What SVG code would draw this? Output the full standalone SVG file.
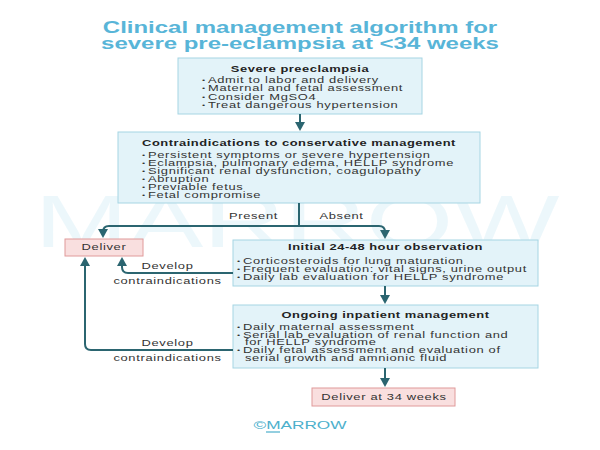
<svg xmlns="http://www.w3.org/2000/svg" width="600" height="450" viewBox="0 0 600 450">
  <defs>
    <style>
      text { font-family: "Liberation Sans", Arial, sans-serif; fill: #333; }
      .t { font-size: 8.6px; letter-spacing: 0.45px; }
      .h { font-size: 8.6px; letter-spacing: 0.35px; font-weight: bold; text-anchor: middle; fill: #222; }
      .c { text-anchor: middle; }
      .b { font-size: 6px; letter-spacing: 0; }
      .title { font-size: 16px; font-weight: bold; fill: #58b5d8; text-anchor: middle; }
      .box { fill: #e3f3f9; stroke: #a6d5e3; stroke-width: 1; }
      .pink { fill: #f9dfdf; stroke: #e09a9a; stroke-width: 1; }
      .conn { fill: none; stroke: #2b6570; stroke-width: 2; }
      .wm { font-size: 75px; fill: #bfe5f1; fill-opacity: 0.3; text-anchor: middle; }
      .brand { font-size: 11.5px; fill: #4db0cc; text-anchor: middle; }
    </style>
    <marker id="ah" markerUnits="userSpaceOnUse" markerWidth="10" markerHeight="10" refX="5" refY="5" orient="auto">
      <path d="M0,0 L9,5 L0,10 z" fill="#2b6570"/>
    </marker>
  </defs>
  <rect width="600" height="450" fill="#ffffff"/>

  <g id="watermark" transform="scale(1.5,1)">
    <text class="wm" x="198" y="247">MARROW</text>
  </g>

  <g id="title" transform="scale(1.5,1)">
    <text class="title" x="200" y="33">Clinical management algorithm for</text>
    <text class="title" x="200" y="49">severe pre-eclampsia at &lt;34 weeks</text>
  </g>

  <g id="severe-preeclampsia">
    <rect class="box" x="178" y="58" width="244" height="56"/>
    <g transform="scale(1.5,1)">
      <text class="h" x="200" y="72.5">Severe preeclampsia</text>
      <text class="t" y="83"><tspan class="b" x="134.67" dy="-1">•</tspan><tspan x="138.67" dy="1">Admit to labor and delivery</tspan></text>
      <text class="t" y="91.5"><tspan class="b" x="134.67" dy="-1">•</tspan><tspan x="138.67" dy="1">Maternal and fetal assessment</tspan></text>
      <text class="t" y="100"><tspan class="b" x="134.67" dy="-1">•</tspan><tspan x="138.67" dy="1">Consider MgSO4</tspan></text>
      <text class="t" y="108.5"><tspan class="b" x="134.67" dy="-1">•</tspan><tspan x="138.67" dy="1">Treat dangerous hypertension</tspan></text>
    </g>
  </g>

  <g id="contraindications">
    <rect class="box" x="118" y="132" width="362" height="71"/>
    <g transform="scale(1.5,1)">
      <text class="h" x="199.33" y="146.5">Contraindications to conservative management</text>
      <text class="t" y="158"><tspan class="b" x="94.67" dy="-1">•</tspan><tspan x="98.67" dy="1">Persistent symptoms or severe hypertension</tspan></text>
      <text class="t" y="166"><tspan class="b" x="94.67" dy="-1">•</tspan><tspan x="98.67" dy="1">Eclampsia, pulmonary edema, HELLP syndrome</tspan></text>
      <text class="t" y="174"><tspan class="b" x="94.67" dy="-1">•</tspan><tspan x="98.67" dy="1">Significant renal dysfunction, coagulopathy</tspan></text>
      <text class="t" y="182"><tspan class="b" x="94.67" dy="-1">•</tspan><tspan x="98.67" dy="1">Abruption</tspan></text>
      <text class="t" y="190"><tspan class="b" x="94.67" dy="-1">•</tspan><tspan x="98.67" dy="1">Previable fetus</tspan></text>
      <text class="t" y="198"><tspan class="b" x="94.67" dy="-1">•</tspan><tspan x="98.67" dy="1">Fetal compromise</tspan></text>
    </g>
  </g>

  <g id="deliver">
    <rect class="pink" x="65" y="239" width="78" height="17"/>
    <g transform="scale(1.5,1)">
      <text class="t c" x="69.33" y="250.5">Deliver</text>
    </g>
  </g>

  <g id="initial-observation">
    <rect class="box" x="233" y="240" width="305" height="46"/>
    <g transform="scale(1.5,1)">
      <text class="h" x="257" y="250.5">Initial 24-48 hour observation</text>
      <text class="t" y="264"><tspan class="b" x="158" dy="-1">•</tspan><tspan x="162" dy="1">Corticosteroids for lung maturation</tspan></text>
      <text class="t" y="272"><tspan class="b" x="158" dy="-1">•</tspan><tspan x="162" dy="1">Frequent evaluation: vital signs, urine output</tspan></text>
      <text class="t" y="280"><tspan class="b" x="158" dy="-1">•</tspan><tspan x="162" dy="1">Daily lab evaluation for HELLP syndrome</tspan></text>
    </g>
  </g>

  <g id="ongoing-management">
    <rect class="box" x="233" y="305" width="305" height="63"/>
    <g transform="scale(1.5,1)">
      <text class="h" x="257" y="318">Ongoing inpatient management</text>
      <text class="t" y="330"><tspan class="b" x="158" dy="-1">•</tspan><tspan x="162" dy="1">Daily maternal assessment</tspan></text>
      <text class="t" y="337.7"><tspan class="b" x="158" dy="-1">•</tspan><tspan x="162" dy="1">Serial lab evaluation of renal function and</tspan></text>
      <text class="t" x="163.33" y="345.4">for HELLP syndrome</text>
      <text class="t" y="353.1"><tspan class="b" x="158" dy="-1">•</tspan><tspan x="162" dy="1">Daily fetal assessment and evaluation of</tspan></text>
      <text class="t" x="163.33" y="360.8">serial growth and amnionic fluid</text>
    </g>
  </g>

  <g id="deliver-34">
    <rect class="pink" x="312" y="388" width="143" height="18"/>
    <g transform="scale(1.5,1)">
      <text class="t c" x="256" y="400">Deliver at 34 weeks</text>
    </g>
  </g>

  <g id="connectors">
    <path class="conn" d="M300,114 V127" marker-end="url(#ah)"/>
    <path class="conn" d="M299,203 V226"/>
    <path class="conn" d="M299,226 H109 Q103,226 103,232 V234" marker-end="url(#ah)"/>
    <path class="conn" d="M299,226 H379 Q385,226 385,232 V235" marker-end="url(#ah)"/>
    <path class="conn" d="M233,273 H128 Q122,273 122,267 V261" marker-end="url(#ah)"/>
    <path class="conn" d="M233,350 H91 Q85,350 85,344 V261" marker-end="url(#ah)"/>
    <path class="conn" d="M385,286 V300" marker-end="url(#ah)"/>
    <path class="conn" d="M385,368 V383" marker-end="url(#ah)"/>
    <g transform="scale(1.5,1)">
      <text class="t c" x="169" y="219">Present</text>
      <text class="t c" x="227.67" y="219">Absent</text>
      <text class="t c" x="111.67" y="269">Develop</text>
      <text class="t c" x="111.67" y="284">contraindications</text>
      <text class="t c" x="111.67" y="346">Develop</text>
      <text class="t c" x="111.67" y="361">contraindications</text>
    </g>
  </g>

  <g id="brand">
    <g transform="scale(1.5,1)">
      <text class="brand" x="200" y="429">©MARROW</text>
    </g>
    <line x1="266" y1="432" x2="280" y2="432" stroke="#4db0cc" stroke-width="1.2"/>
  </g>
</svg>
